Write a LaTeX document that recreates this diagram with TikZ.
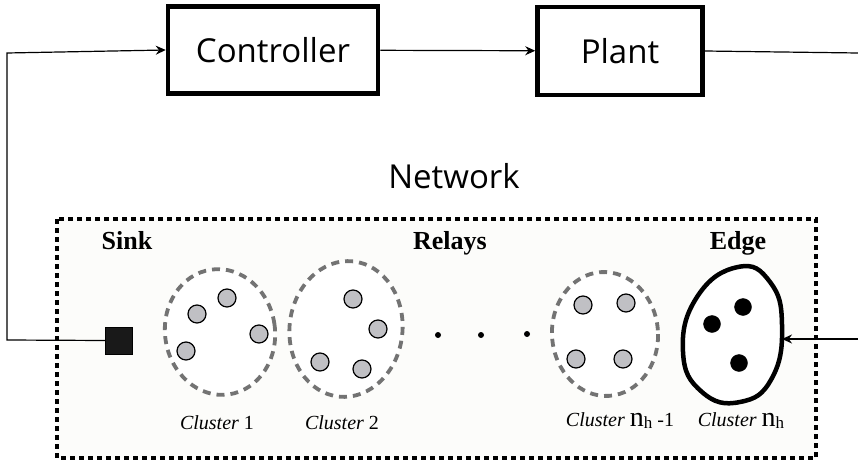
\documentclass[tikz,border=0pt]{standalone}
\usepackage{fontspec}
\usepackage{tikz}
\usetikzlibrary{arrows.meta,shapes.geometric}
\setsansfont{Open Sans}
\newfontfamily\timesfont{Liberation Serif}
\definecolor{boxbg}{RGB}{252,252,250}
\definecolor{dashgray}{RGB}{115,115,115}
\definecolor{nodegray}{RGB}{192,192,196}
\newcommand{\nh}{{\fontsize{28}{30}\selectfont n}\raisebox{-2pt}{\fontsize{17}{18}\selectfont h}}

\begin{document}
\begin{tikzpicture}[x=1pt, y=-1pt,
		block/.style={draw, line width=4.5pt, inner sep=0pt, font=\sffamily\fontsize{33}{36}\selectfont},
		arr/.style={-{Stealth[length=10pt, width=9pt]}, line width=1.2pt},
		cluster/.style={ellipse, draw=dashgray, line width=3.8pt, dash pattern=on 8pt off 6pt, fill=white, inner sep=0pt},
		sensor/.style={circle, draw, line width=1.2pt, fill=nodegray, minimum size=18pt, inner sep=0pt},
		head/.style={draw, circle, fill=black, minimum size=17pt, inner sep=0pt},
		tag/.style={font=\timesfont\bfseries\fontsize{26}{28}\selectfont},
		clabel/.style={font=\timesfont\fontsize{20}{22}\selectfont}]
		\useasboundingbox (0, 0) rectangle (858, 462);
		% control loop
		\node [block, minimum width=210pt, minimum height=87pt] (ctrl) at (273, 50) {Controller};
		\node [block, minimum width=165pt, minimum height=88pt] (plant) at (620, 51) {Plant};
		\coordinate (lt) at (7, 53);
		\coordinate (lb) at (7, 340);
		\coordinate (rt) at (858, 53);
		\coordinate (rb) at (858, 339);
		\node [font=\sffamily\fontsize{33}{36}\selectfont] (net) at (454, 176) {Network};
		% network box
		\draw [line width=3.5pt, dash pattern=on 5pt off 4pt, fill=boxbg] (57, 219) rectangle (816, 458);
		\node [tag] (sinktxt) at (127, 241) {Sink};
		\node [tag] (relaytxt) at (450, 243) {Relays};
		\node [tag] (edgetxt) at (738, 243) {Edge};
		\node [draw, fill=black!90, minimum size=27pt, inner sep=0pt] (sink) at (119, 340.5) {};
		% relay clusters
		\node [cluster, minimum width=110pt, minimum height=126pt, rotate=8] (c1) at (220, 332) {};
		\node [cluster, minimum width=113pt, minimum height=136pt, rotate=-6] (c2) at (346, 329) {};
		\node [cluster, minimum width=106pt, minimum height=124pt, rotate=4] (cn) at (605, 334) {};
		\node [sensor] (s11) at (227, 298) {};
		\node [sensor] (s12) at (197, 314) {};
		\node [sensor] (s13) at (259, 334) {};
		\node [sensor] (s14) at (186, 351) {};
		\node [sensor] (s21) at (353, 299) {};
		\node [sensor] (s22) at (378, 329) {};
		\node [sensor] (s23) at (320, 362) {};
		\node [sensor] (s24) at (362, 369) {};
		\node [sensor] (sn1) at (583, 305) {};
		\node [sensor] (sn2) at (626, 303) {};
		\node [sensor] (sn3) at (576, 359) {};
		\node [sensor] (sn4) at (623, 359) {};
		\fill (438, 335) circle (3pt);
		\fill (481, 335) circle (3pt);
		\fill (527, 334) circle (3pt);
		% edge cluster
		\draw [line width=4.5pt, fill=white] plot [smooth cycle, tension=0.8] coordinates {(738, 267) (770, 282) (782, 325) (772, 378) (740, 402) (702, 392) (683, 352) (697, 297)};
		\coordinate (edgein) at (782, 339);
		\node [head] (e1) at (743, 307) {};
		\node [head] (e2) at (712, 324) {};
		\node [head] (e3) at (739, 363) {};
		% labels
		\node [clabel] (l1) at (217, 423) {\textit{Cluster} 1};
		\node [clabel] (l2) at (342, 423) {\textit{Cluster} 2};
		\node [clabel] (ln) at (620, 421) {\textit{Cluster} \nh\ -1};
		\node [clabel] (le) at (741, 421) {\textit{Cluster} \nh};
		% connectors
		\draw [arr] (sink.west) -- (lb) -- (lt) -- (ctrl.west);
		\draw [arr] (ctrl) -- (plant);
		\draw [line width=1.2pt] (plant.east) -- (rt);
		\draw [arr] (rb) -- (edgein);
	\end{tikzpicture}
\end{document}
